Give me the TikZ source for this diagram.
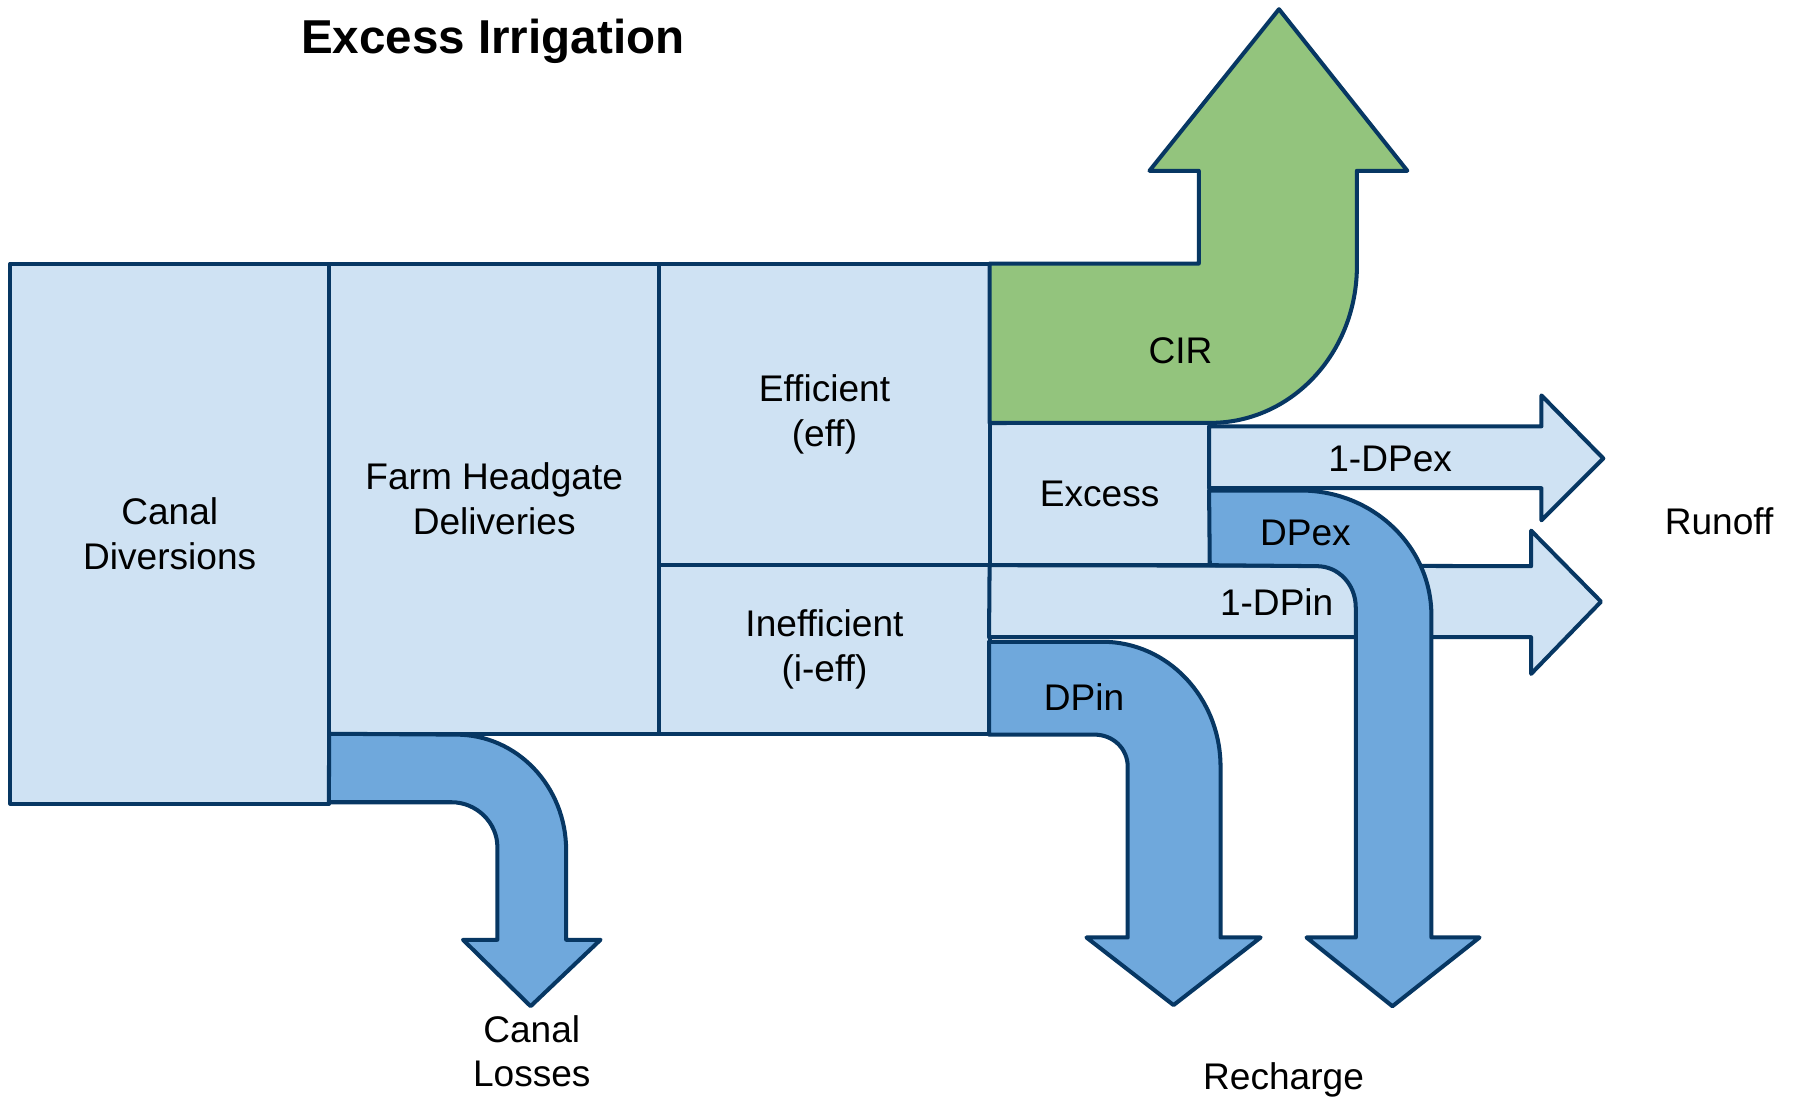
\documentclass[tikz,border=0pt]{standalone}
\usepackage{fontspec}
\setmainfont{Liberation Sans}
\usepackage{xcolor}
\usetikzlibrary{positioning,calc}

\definecolor{pale}{HTML}{CFE2F3}
\definecolor{mid}{HTML}{6FA8DC}
\definecolor{leaf}{HTML}{93C47D}
\definecolor{edge}{HTML}{073763}

\begin{document}
\begin{tikzpicture}[x=0.01cm,y=-0.01cm,line join=round,
  lbl/.style={font=\fontsize{9.2pt}{11pt}\selectfont,align=center},
  box/.style={lbl,draw=edge,fill=pale,line width=1pt,inner sep=0pt,outer sep=0pt},
  flow/.style={draw=edge,line width=1pt,fill=#1}]
\useasboundingbox (0,0) rectangle (1568,960);
% title
  \node[font=\fontsize{11.8pt}{13pt}\selectfont\bfseries,anchor=base] (title) at (430,47) {Excess Irrigation};
% boxes
  \node[box,minimum width=2.78cm,minimum height=4.71cm,anchor=north west] (div) at (9,230) {Canal\\Diversions};
  \node[box,minimum width=2.88cm,minimum height=4.10cm,anchor=north west] (farm) at (div.north east) {Farm Headgate\\Deliveries};
  \node[box,minimum width=2.88cm,minimum height=2.63cm,anchor=north west] (eff) at (farm.north east) {Efficient\\(eff)};
  \node[box,minimum width=2.88cm,minimum height=1.47cm,anchor=north west] (ineff) at (eff.south west) {Inefficient\\(i-eff)};
  \node[box,minimum width=1.92cm,minimum height=1.24cm,anchor=south west] (excess) at (ineff.north east) {Excess};
% flows
  \draw[flow=leaf] (eff.north east) -- (1046,230) -- (1046,149) -- (1003,149) -- (1116,8) -- (1228,149) -- (1184,149) -- (1184,232)
    .. controls (1184,308) and (1127,369) .. (1056,369) -- (excess.north west) -- cycle;
  \draw[flow=pale] (1055,372) -- (1345,372) -- (1345,345) -- (1399,400) -- (1345,454) -- (1345,426) -- (1055,426) -- cycle;
  \draw[flow=pale] (ineff.north east) -- (1336,494) -- (1336,463) -- (1397,525) -- (1336,588) -- (1336,556) -- (863,556) -- cycle;
  \draw[flow=mid] (1055,428) -- (1135,428) .. controls (1198,428) and (1249,477) .. (1249,537) -- (1249,818) -- (1291,818) -- (1215,878)
    -- (1140,818) -- (1183,818) -- (1183,530) .. controls (1183,510) and (1168,494) .. (1149,494) -- (excess.south east) -- cycle;
  \draw[flow=mid] (863,560) -- (962,560) .. controls (1019,560) and (1065,609) .. (1065,669) -- (1065,818) -- (1100,818) -- (1024,877)
    -- (948,818) -- (984,818) -- (984,669) .. controls (984,653) and (971,641) .. (955,641) -- (863,641) -- cycle;
  \draw[flow=mid] (farm.south west) -- (398,641) .. controls (451,641) and (494,686) .. (494,742) -- (494,820) -- (524,820) -- (463,878)
    -- (404,820) -- (434,820) -- (434,739) .. controls (434,718) and (416,700) .. (394,700) -- (287,700) -- cycle;
% labels
  \node[lbl] (cir) at (1030,306) {CIR};
  \node[lbl] (dpexout) at (1213,400) {1-DPex};
  \node[lbl] (dpex) at (1139,465) {DPex};
  \node[lbl] (dpinout) at (1114,525) {1-DPin};
  \node[lbl] (dpin) at (946,608) {DPin};
  \node[lbl] (runoff) at (1500,455) {Runoff};
  \node[lbl] (losses) at (464,917) {Canal\\Losses};
  \node[lbl] (recharge) at (1120,942) {Recharge};
\end{tikzpicture}
\end{document}
